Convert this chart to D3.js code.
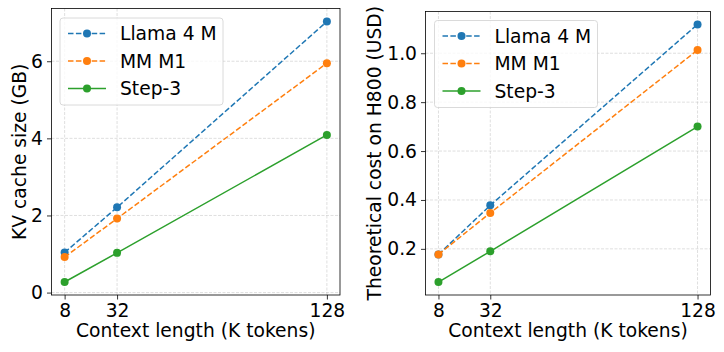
<!DOCTYPE html>
<html>
<head>
<meta charset="utf-8">
<script src="https://cdn.jsdelivr.net/npm/d3@7"></script>
<style>
  body { margin: 0; background: #fff; }
  svg { font-family: "DejaVu Sans", sans-serif; }
</style>
</head>
<body>
<svg width="724" height="352"></svg>
<script>
// ---- Data
const contextLengths = [8, 32, 128];
const seriesNames = ['Llama 4 M', 'MM M1', 'Step-3'];
const kvCache = [
    [1.04, 2.21, 7.03],
    [0.92, 1.92, 5.95],
    [0.275, 1.03, 4.09]
];
const costH800 = [
    [0.177, 0.378, 1.118],
    [0.177, 0.347, 1.013],
    [0.064, 0.19, 0.70]
];
const kvTicks = [0, 2, 4, 6];
const costTicks = [0.2, 0.4, 0.6, 0.8, 1.0];
const colors = ['#1f77b4', '#ff7f0e', '#2ca02c'];
const dashes = ['5.5,2.4', '5.5,2.4', null];
const fontSize = 18.7;

const svg = d3.select('svg');

function drawPanel(opts) {
    const { box, values, yTicks, yFormat, yLabel, yLabelX, legendPos } = opts;
    const g = svg.append('g');

    const allVals = values.flat();
    const [vmin, vmax] = d3.extent(allVals);
    const pad = (vmax - vmin) * 0.05;
    const mapY = d3.scaleLinear().domain([vmin - pad, vmax + pad]).range([box.bottom, box.top]);
    const mapX = d3.scaleLinear().domain([8 - 6, 128 + 6]).range([box.left, box.right]);

    // ---- Grid
    g.append('g').selectAll('line').data(yTicks).join('line')
        .attr('x1', box.left).attr('x2', box.right)
        .attr('y1', d => mapY(d)).attr('y2', d => mapY(d))
        .attr('stroke', '#b0b0b0').attr('stroke-opacity', 0.5)
        .attr('stroke-width', 0.8).attr('stroke-dasharray', '3,1.5');
    g.append('g').selectAll('line').data(contextLengths).join('line')
        .attr('y1', box.top).attr('y2', box.bottom)
        .attr('x1', d => mapX(d)).attr('x2', d => mapX(d))
        .attr('stroke', '#b0b0b0').attr('stroke-opacity', 0.5)
        .attr('stroke-width', 0.8).attr('stroke-dasharray', '3,1.5');

    // ---- Eixos
    const xAxis = d3.axisBottom(mapX).tickValues(contextLengths).tickSize(4.5).tickPadding(4);
    g.append('g')
        .attr('transform', `translate(0, ${box.bottom})`)
        .call(xAxis)
        .call(s => s.select('.domain').remove());
    const yAxis = d3.axisLeft(mapY).tickValues(yTicks).tickFormat(yFormat).tickSize(4.5).tickPadding(4);
    g.append('g')
        .attr('transform', `translate(${box.left}, 0)`)
        .call(yAxis)
        .call(s => s.select('.domain').remove());
    g.selectAll('.tick text').attr('font-size', fontSize).attr('fill', '#000')
        .attr('font-family', '"DejaVu Sans", sans-serif');
    g.selectAll('.tick line').attr('stroke', '#000').attr('stroke-width', 0.8);

    g.append('rect')
        .attr('x', box.left).attr('y', box.top)
        .attr('width', box.right - box.left).attr('height', box.bottom - box.top)
        .attr('fill', 'none').attr('stroke', '#000').attr('stroke-width', 0.8);

    // ---- Lines
    const line = d3.line()
        .x((d, i) => mapX(contextLengths[i]))
        .y(d => mapY(d));
    values.forEach((vals, k) => {
        g.append('path')
            .attr('d', line(vals))
            .attr('fill', 'none')
            .attr('stroke', colors[k])
            .attr('stroke-width', 1.5)
            .attr('stroke-dasharray', dashes[k]);
        g.append('g').selectAll('circle').data(vals).join('circle')
            .attr('cx', (d, i) => mapX(contextLengths[i]))
            .attr('cy', d => mapY(d))
            .attr('r', 4)
            .attr('fill', colors[k]);
    });

    // ---- Labels
    g.append('text')
        .attr('x', (box.left + box.right) / 2).attr('y', 337)
        .attr('text-anchor', 'middle').attr('font-size', fontSize)
        .text('Context length (K tokens)');
    g.append('text')
        .attr('transform', `translate(${yLabelX}, ${(box.top + box.bottom) / 2}) rotate(-90)`)
        .attr('text-anchor', 'middle').attr('font-size', fontSize)
        .text(yLabel);

    // ---- Legend
    const lg = g.append('g').attr('transform', `translate(${legendPos[0]}, ${legendPos[1]})`);
    lg.append('rect')
        .attr('width', 163).attr('height', 87).attr('rx', 3)
        .attr('fill', '#fff').attr('fill-opacity', 0.8)
        .attr('stroke', '#d0d0d0').attr('stroke-width', 0.8);
    seriesNames.forEach((name, k) => {
        const y = 15.5 + k * 27.5;
        lg.append('line')
            .attr('x1', 8).attr('x2', 46).attr('y1', y).attr('y2', y)
            .attr('stroke', colors[k]).attr('stroke-width', 1.5)
            .attr('stroke-dasharray', dashes[k]);
        lg.append('circle').attr('cx', 27).attr('cy', y).attr('r', 4).attr('fill', colors[k]);
        lg.append('text')
            .attr('x', 60).attr('y', y).attr('dy', '0.35em')
            .attr('font-size', fontSize)
            .text(name);
    });
}

drawPanel({
    box: { left: 51.5, right: 340, top: 8.5, bottom: 295 },
    values: kvCache,
    yTicks: kvTicks,
    yFormat: d3.format('d'),
    yLabel: 'KV cache size (GB)',
    yLabelX: 25.5,
    legendPos: [60, 18]
});

drawPanel({
    box: { left: 425.5, right: 710.5, top: 11.5, bottom: 295 },
    values: costH800,
    yTicks: costTicks,
    yFormat: d3.format('.1f'),
    yLabel: 'Theoretical cost on H800 (USD)',
    yLabelX: 381,
    legendPos: [434.5, 20.5]
});
</script>
</body>
</html>
